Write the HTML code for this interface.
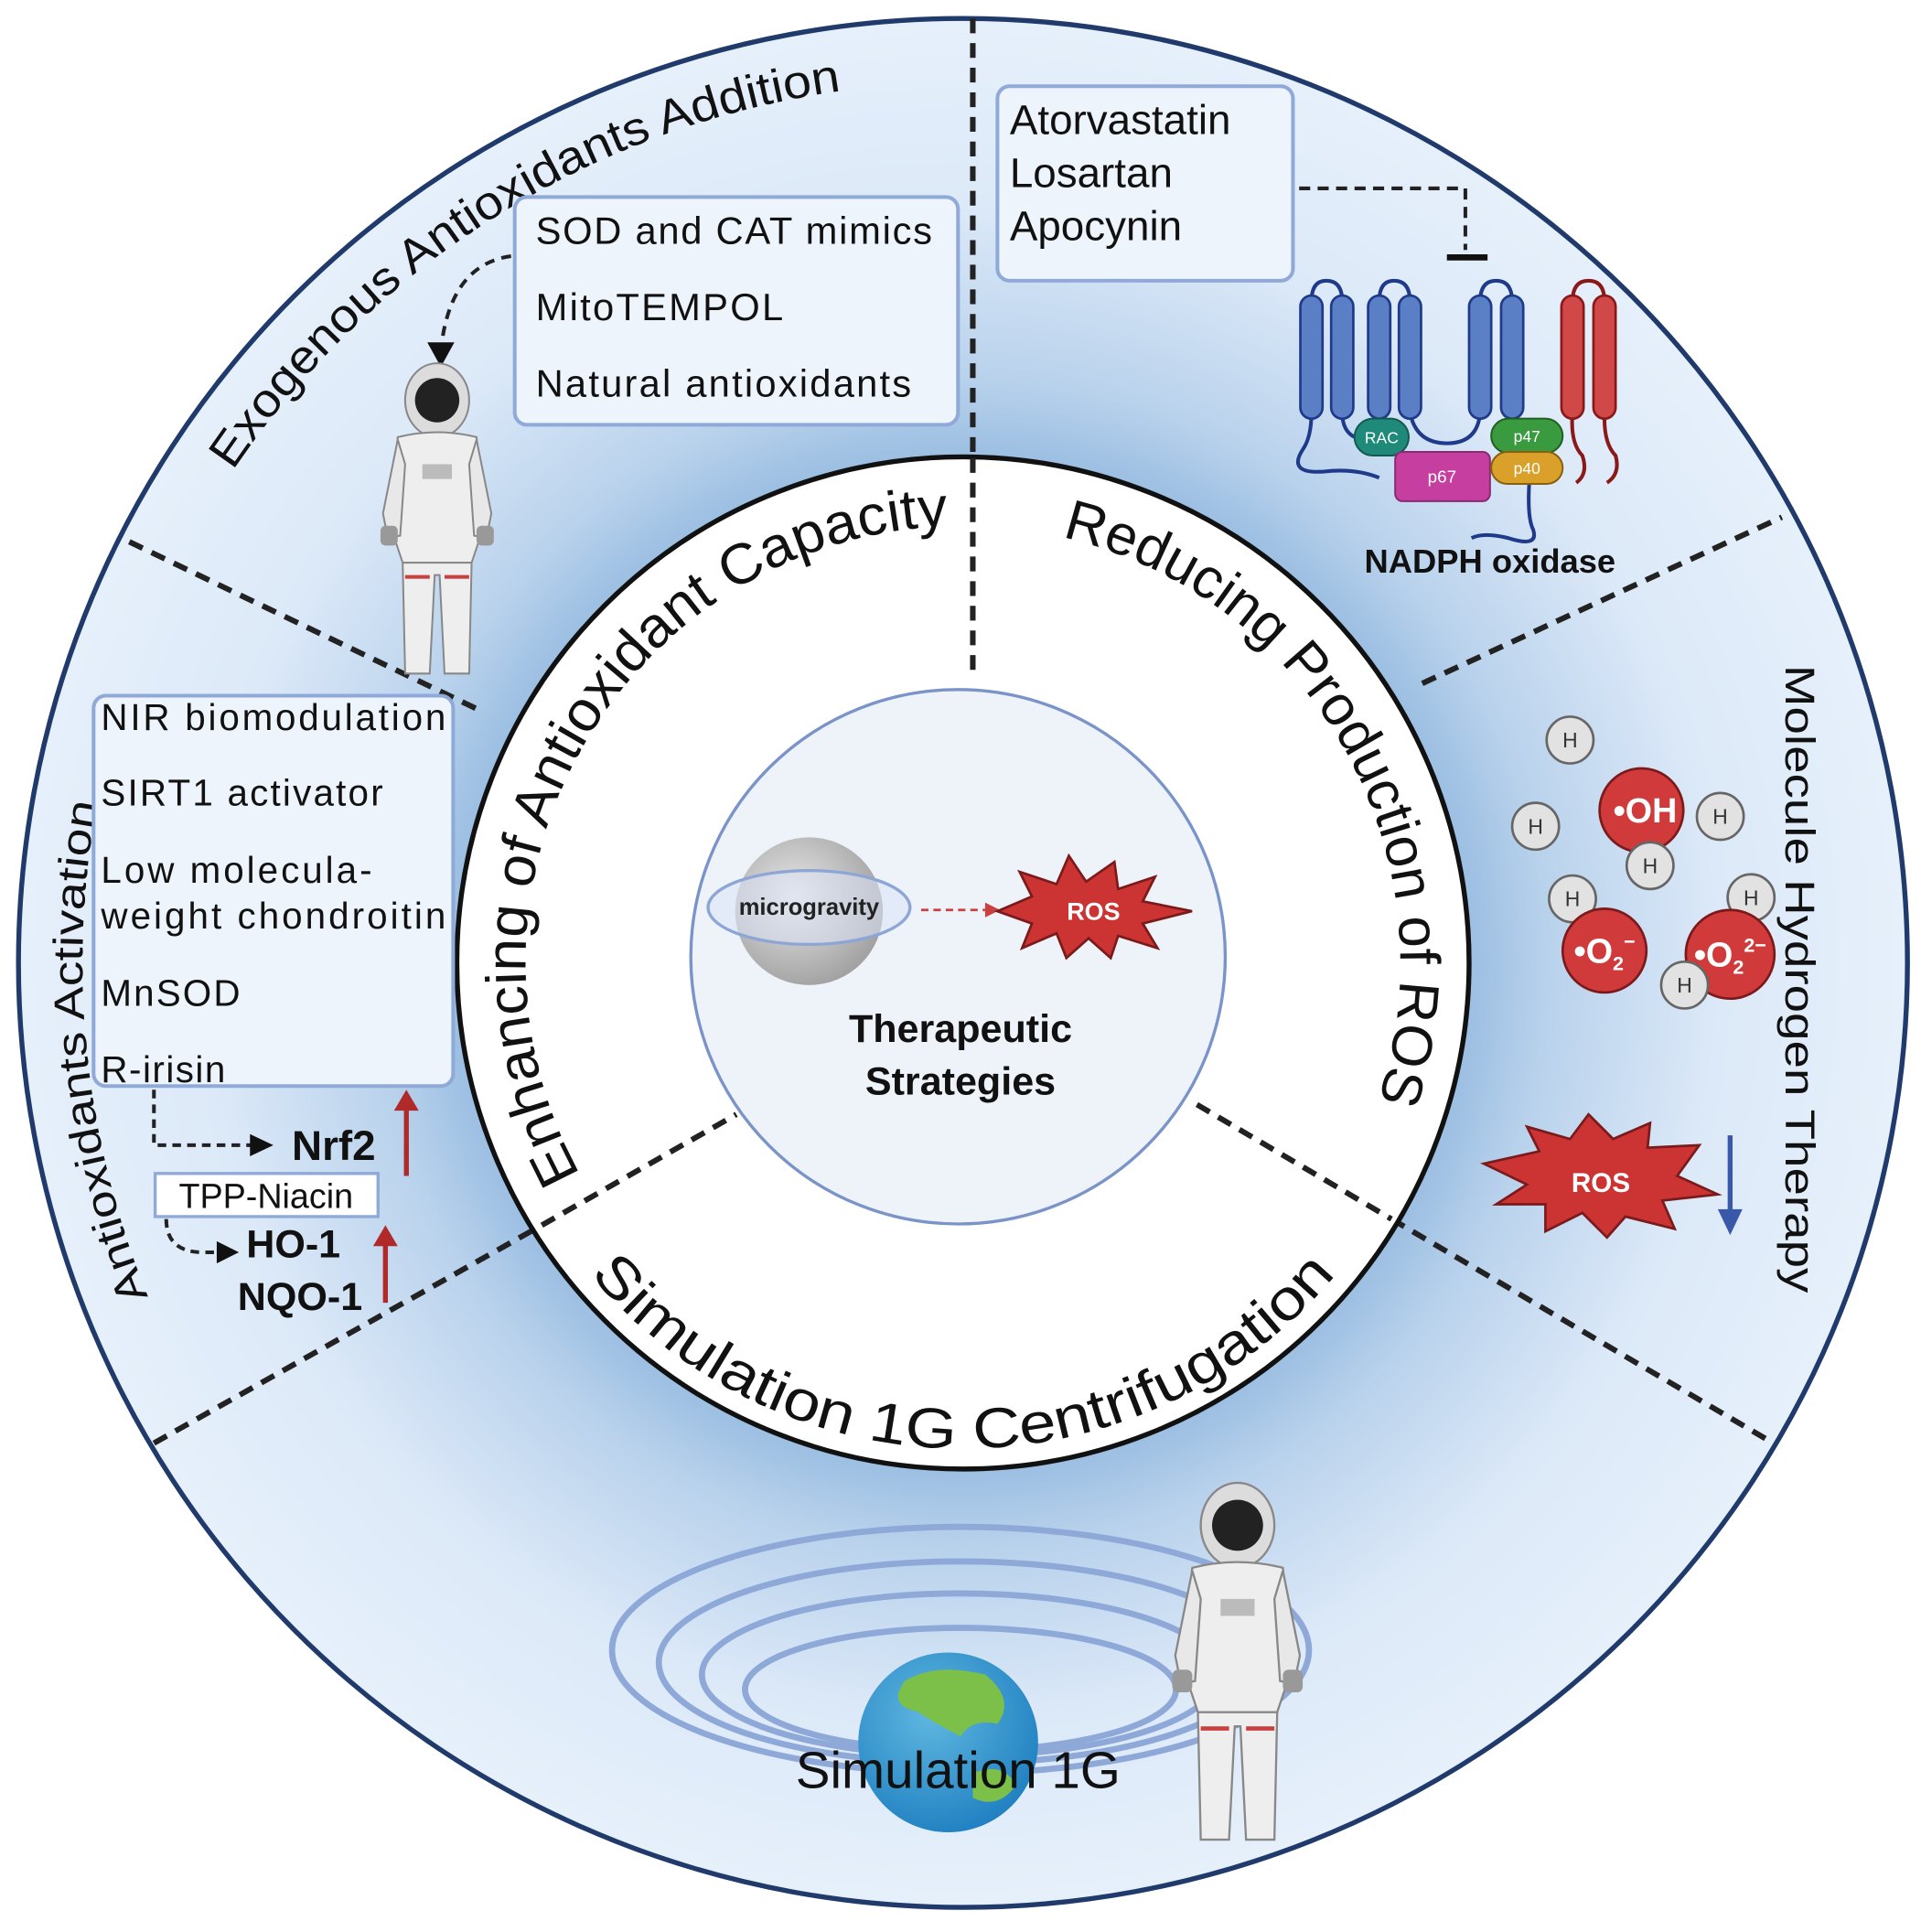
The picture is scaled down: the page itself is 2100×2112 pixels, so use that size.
<!DOCTYPE html>
<html><head><meta charset="utf-8"><style>
html,body{margin:0;padding:0;background:#fff;}
svg{display:block;}
text{font-family:"Liberation Sans",sans-serif;}
</style></head><body>
<svg width="2100" height="2112" viewBox="0 0 1560 1569" preserveAspectRatio="none" xmlns="http://www.w3.org/2000/svg">
<defs>
<radialGradient id="bg" cx="782" cy="782" r="768" gradientUnits="userSpaceOnUse">
<stop offset="0.5" stop-color="#8fb6de"/>
<stop offset="0.62" stop-color="#b9d2ec"/>
<stop offset="0.8" stop-color="#dce9f8"/>
<stop offset="1" stop-color="#e6f0fb"/>
</radialGradient>
<radialGradient id="moon" cx="0.4" cy="0.4" r="0.7">
<stop offset="0" stop-color="#e8e8e8"/><stop offset="1" stop-color="#9a9a9a"/>
</radialGradient>
<radialGradient id="earth" cx="0.4" cy="0.35" r="0.7">
<stop offset="0" stop-color="#5fb7e0"/><stop offset="1" stop-color="#1f7fc0"/>
</radialGradient>
<path id="pIn" d="M782 1137 A355 355 0 1 1 782 427 A355 355 0 1 1 782 1137"/>
<path id="pOut" d="M782 1497 A715 715 0 1 1 782 67 A715 715 0 1 1 782 1497"/>
<path id="pBot" d="M411 917 A395 395 0 0 0 1153 917"/>
<g id="astro">
<ellipse cx="0" cy="18" rx="26" ry="30" fill="#dcdcdc" stroke="#888" stroke-width="1.5"/>
<circle cx="0" cy="18" r="18" fill="#222"/>
<path d="M-32 48 Q0 40 32 48 L38 120 L28 150 L-28 150 L-38 120 Z" fill="#eee" stroke="#888" stroke-width="1.5"/>
<path d="M-32 50 L-44 110 L-40 130 L-30 128 L-26 70 Z" fill="#e8e8e8" stroke="#888" stroke-width="1.5"/>
<path d="M32 50 L44 110 L40 130 L30 128 L26 70 Z" fill="#e8e8e8" stroke="#888" stroke-width="1.5"/>
<rect x="-46" y="120" width="14" height="16" rx="4" fill="#999"/>
<rect x="32" y="120" width="14" height="16" rx="4" fill="#999"/>
<path d="M-28 150 L-26 240 L-6 240 L-2 160 L2 160 L6 240 L26 240 L28 150 Z" fill="#eee" stroke="#888" stroke-width="1.5"/>
<rect x="-26" y="160" width="20" height="3" fill="#c94040"/>
<rect x="6" y="160" width="20" height="3" fill="#c94040"/>
<rect x="-12" y="70" width="24" height="12" fill="#bbb"/>
</g>
</defs>
<rect width="1560" height="1569" fill="#fff"/>
<circle cx="782" cy="782" r="767" fill="url(#bg)" stroke="#1f3a6b" stroke-width="4"/>
<g stroke="#222" stroke-width="4.5" stroke-dasharray="12 8" fill="none">
<line x1="790" y1="15" x2="790" y2="370"/>
<line x1="105" y1="440" x2="392" y2="578"/>
<line x1="125" y1="1172" x2="440" y2="995"/>
<line x1="1130" y1="990" x2="1440" y2="1172"/>
<line x1="1155" y1="555" x2="1447" y2="420"/>
</g>
<circle cx="782" cy="782" r="411" fill="#fff" stroke="#111" stroke-width="4"/>
<g stroke="#222" stroke-width="4.5" stroke-dasharray="12 8" fill="none">
<line x1="790" y1="372" x2="790" y2="548"/>
<line x1="440" y1="995" x2="598" y2="905"/>
<line x1="972" y1="897" x2="1130" y2="990"/>
</g>
<circle cx="778" cy="777" r="217" fill="#eef3fa" stroke="#7a93c8" stroke-width="2.5"/>
<text font-size="46" fill="#111"><textPath href="#pIn" startOffset="378" textLength="725" lengthAdjust="spacingAndGlyphs">Enhancing of Antioxidant Capacity</textPath></text>
<text font-size="46" fill="#111"><textPath href="#pIn" startOffset="1196" textLength="590" lengthAdjust="spacingAndGlyphs">Reducing Production of ROS</textPath></text>
<text font-size="46" fill="#111" text-anchor="middle"><textPath href="#pBot" startOffset="50%" textLength="690" lengthAdjust="spacingAndGlyphs">Simulation 1G Centrifugation</textPath></text>
<text font-size="38" fill="#111"><textPath href="#pOut" startOffset="1547" textLength="600" lengthAdjust="spacingAndGlyphs">Exogenous Antioxidants Addition</textPath></text>
<text font-size="34" fill="#111"><textPath href="#pOut" startOffset="845" textLength="409" lengthAdjust="spacingAndGlyphs">Antioxidants Activation</textPath></text>
<text font-size="34" fill="#111" transform="translate(1450,540) rotate(90)" textLength="510" lengthAdjust="spacingAndGlyphs">Molecule Hydrogen Therapy</text>
<rect x="418" y="160" width="360" height="185" rx="10" fill="#eef4fc" stroke="#8fa9d8" stroke-width="3"/>
<g font-size="31" fill="#111" lengthAdjust="spacingAndGlyphs"><text x="435" y="198" textLength="322">SOD and CAT mimics</text><text x="435" y="260" textLength="201">MitoTEMPOL</text><text x="435" y="322" textLength="305">Natural antioxidants</text></g>
<path d="M415 208 Q365 215 358 285" fill="none" stroke="#222" stroke-width="3" stroke-dasharray="8 6"/>
<polygon points="347,278 369,278 358,298" fill="#111"/>
<use href="#astro" x="355" y="307"/>
<rect x="810" y="70" width="240" height="158" rx="10" fill="#eef4fc" stroke="#8fa9d8" stroke-width="3"/>
<g font-size="34" fill="#111"><text x="820" y="109">Atorvastatin</text><text x="820" y="152">Losartan</text><text x="820" y="195">Apocynin</text></g>
<path d="M1055 153 L1190 153 L1190 203" fill="none" stroke="#222" stroke-width="3" stroke-dasharray="9 6"/>
<line x1="1175" y1="209" x2="1208" y2="209" stroke="#111" stroke-width="5"/>
<g stroke="#1f3a8a" stroke-width="3" fill="none">
<path d="M1065 245 Q1065 228 1077 228 Q1090 228 1090 245"/>
<path d="M1120 245 Q1120 228 1132 228 Q1145 228 1145 245"/>
<path d="M1202 245 Q1202 228 1215 228 Q1228 228 1228 245"/>
<path d="M1065 335 Q1065 355 1058 365 Q1045 385 1075 383 Q1100 380 1120 388"/>
<path d="M1090 335 Q1090 350 1100 355"/>
<path d="M1145 335 Q1150 360 1175 360 Q1200 360 1202 335"/>
<path d="M1242 390 Q1240 420 1245 430 Q1250 445 1225 437 Q1205 432 1195 437"/>
</g>
<g fill="#5b7fc4" stroke="#1f3a8a" stroke-width="2">
<rect x="1056" y="240" width="18" height="100" rx="9"/><rect x="1081" y="240" width="18" height="100" rx="9"/>
<rect x="1111" y="240" width="18" height="100" rx="9"/><rect x="1136" y="240" width="18" height="100" rx="9"/>
<rect x="1193" y="240" width="18" height="100" rx="9"/><rect x="1219" y="240" width="18" height="100" rx="9"/>
</g>
<g stroke="#8a1a1a" stroke-width="3" fill="none">
<path d="M1277 245 Q1277 228 1290 228 Q1303 228 1303 245"/>
<path d="M1277 335 Q1275 360 1285 370 Q1290 385 1280 392"/>
<path d="M1303 335 Q1302 360 1312 370 Q1316 385 1305 392"/>
</g>
<g fill="#d04848" stroke="#8a1a1a" stroke-width="2"><rect x="1268" y="240" width="18" height="100" rx="9"/><rect x="1294" y="240" width="18" height="100" rx="9"/></g>
<rect x="1100" y="340" width="44" height="30" rx="15" fill="#1f8a7a" stroke="#145a50" stroke-width="1.5"/>
<text x="1122" y="360" font-size="13" fill="#fff" text-anchor="middle">RAC</text>
<rect x="1133" y="367" width="77" height="40" rx="6" fill="#c63ea0" stroke="#8a2a70" stroke-width="1.5"/>
<text x="1171" y="392" font-size="14" fill="#fff" text-anchor="middle">p67</text>
<rect x="1211" y="340" width="58" height="28" rx="14" fill="#3a9a40" stroke="#1f6022" stroke-width="1.5"/>
<text x="1240" y="359" font-size="13" fill="#fff" text-anchor="middle">p47</text>
<rect x="1211" y="367" width="58" height="26" rx="13" fill="#d9a02a" stroke="#8a6010" stroke-width="1.5"/>
<text x="1240" y="385" font-size="13" fill="#fff" text-anchor="middle">p40</text>
<text x="1210" y="465" font-size="27" font-weight="bold" fill="#111" text-anchor="middle">NADPH oxidase</text>
<rect x="76" y="565" width="292" height="317" rx="10" fill="#eef4fc" stroke="#8fa9d8" stroke-width="3"/>
<g font-size="30" fill="#111" lengthAdjust="spacingAndGlyphs"><text x="82" y="593" textLength="280">NIR biomodulation</text><text x="82" y="654" textLength="229">SIRT1 activator</text><text x="82" y="717" textLength="220">Low molecula-</text><text x="82" y="754" textLength="280">weight chondroitin</text><text x="82" y="817" textLength="113">MnSOD</text><text x="82" y="879" textLength="101">R-irisin</text></g>
<path d="M125 885 L125 930 L205 930" fill="none" stroke="#222" stroke-width="3" stroke-dasharray="7 5"/>
<polygon points="203,921 222,930 203,939" fill="#111"/>
<text x="237" y="942" font-size="34" font-weight="bold" fill="#111">Nrf2</text>
<line x1="330" y1="955" x2="330" y2="898" stroke="#b02a2a" stroke-width="4"/><polygon points="320,902 340,902 330,885" fill="#b02a2a"/>
<rect x="126" y="953" width="181" height="35" fill="#fff" stroke="#8fa9d8" stroke-width="2.5"/>
<text x="216" y="981" font-size="28" fill="#111" text-anchor="middle">TPP-Niacin</text>
<path d="M135 990 Q135 1017 165 1017 L178 1017" fill="none" stroke="#222" stroke-width="3" stroke-dasharray="7 5"/>
<polygon points="176,1008 194,1017 176,1026" fill="#111"/>
<text x="200" y="1021" font-size="32" font-weight="bold" fill="#111">HO-1</text>
<text x="193" y="1064" font-size="32" font-weight="bold" fill="#111">NQO-1</text>
<line x1="313" y1="1058" x2="313" y2="1008" stroke="#b02a2a" stroke-width="4"/><polygon points="303,1012 323,1012 313,995" fill="#b02a2a"/>
<circle cx="657" cy="740" r="60" fill="url(#moon)"/>
<ellipse cx="657" cy="737" rx="82" ry="30" fill="rgba(220,228,245,0.55)" stroke="#8ea6d6" stroke-width="2.5"/>
<text x="657" y="743" font-size="19" font-weight="bold" fill="#222" text-anchor="middle">microgravity</text>
<line x1="748" y1="739" x2="800" y2="739" stroke="#c94040" stroke-width="2" stroke-dasharray="6 4"/>
<polygon points="800,733 812,739 800,745" fill="#c94040"/>
<polygon points="810,740 838,728 828,708 858,718 868,695 882,716 905,700 908,722 938,712 928,732 968,740 928,750 940,770 908,760 902,778 884,762 866,778 858,758 830,770 838,750" fill="#cc3333" stroke="#7a1a1a" stroke-width="2"/>
<text x="888" y="747" font-size="20" font-weight="bold" fill="#fff" text-anchor="middle">ROS</text>
<text x="780" y="846" font-size="32" font-weight="bold" fill="#111" text-anchor="middle">Therapeutic</text>
<text x="780" y="889" font-size="32" font-weight="bold" fill="#111" text-anchor="middle">Strategies</text>
<g fill="#e2e2e2" stroke="#666" stroke-width="2">
<circle cx="1275" cy="601" r="19"/><circle cx="1247" cy="671" r="19"/><circle cx="1397" cy="663" r="19"/>
<circle cx="1277" cy="730" r="19"/><circle cx="1422" cy="729" r="19"/>
</g>
<g font-size="17" fill="#333" text-anchor="middle">
<text x="1275" y="607">H</text><text x="1247" y="677">H</text><text x="1397" y="669">H</text><text x="1277" y="736">H</text><text x="1422" y="735">H</text>
</g>
<g fill="#d03a3a" stroke="#7a1a1a" stroke-width="2">
<circle cx="1333" cy="658" r="34"/><circle cx="1303" cy="772" r="34"/><circle cx="1405" cy="775" r="36"/>
</g>
<circle cx="1340" cy="703" r="19" fill="#e2e2e2" stroke="#666" stroke-width="2"/><text x="1340" y="709" font-size="17" fill="#333" text-anchor="middle">H</text>
<circle cx="1368" cy="800" r="19" fill="#e2e2e2" stroke="#666" stroke-width="2"/><text x="1368" y="806" font-size="17" fill="#333" text-anchor="middle">H</text>
<g font-weight="bold" fill="#fff" font-size="28">
<text x="1336" y="668" text-anchor="middle">•OH</text>
<text x="1303" y="782" text-anchor="middle">•O<tspan font-size="16" dy="6">2</tspan><tspan font-size="16" dy="-18">−</tspan></text>
<text x="1405" y="785" text-anchor="middle">•O<tspan font-size="16" dy="6">2</tspan><tspan font-size="16" dy="-18">2−</tspan></text>
</g>
<polygon points="1205,945 1250,935 1240,915 1275,925 1290,905 1310,925 1340,912 1338,932 1380,930 1362,955 1395,970 1350,975 1360,998 1320,988 1305,1005 1285,985 1255,1000 1255,978 1215,978 1240,962" fill="#cc3333" stroke="#7a1a1a" stroke-width="2"/>
<text x="1300" y="968" font-size="22" font-weight="bold" fill="#fff" text-anchor="middle">ROS</text>
<line x1="1405" y1="922" x2="1405" y2="985" stroke="#3a58a8" stroke-width="4"/><polygon points="1395,982 1415,982 1405,1003" fill="#3a58a8"/>
<g fill="none" stroke="#8ea8d8" stroke-width="5">
<ellipse cx="780" cy="1340" rx="283" ry="100"/>
<ellipse cx="780" cy="1350" rx="245" ry="82"/>
<ellipse cx="780" cy="1360" rx="210" ry="66"/>
<ellipse cx="780" cy="1372" rx="175" ry="50"/>
</g>
<circle cx="770" cy="1415" r="73" fill="url(#earth)"/>
<path d="M735 1365 Q760 1350 800 1360 Q825 1380 810 1400 Q790 1395 780 1410 Q760 1400 745 1390 Q720 1385 735 1365Z" fill="#7cc04a"/>
<path d="M790 1440 Q815 1430 825 1450 Q810 1470 790 1460Z" fill="#7cc04a"/>
<text x="778" y="1452" font-size="42" fill="#111" text-anchor="middle">Simulation 1G</text>
<use href="#astro" x="1005" y="1218" transform="translate(1005 1218) scale(1.15) translate(-1005 -1218)"/>
</svg>
</body></html>
